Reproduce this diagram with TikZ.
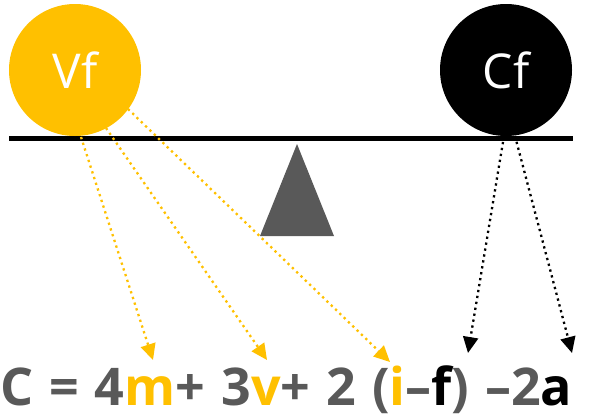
\documentclass[tikz,border=0pt]{standalone}
\usepackage{fontspec}
\setmainfont{Open Sans}
\usetikzlibrary{arrows.meta}
\definecolor{gold}{HTML}{FFC000}
\definecolor{txtgray}{HTML}{595959}
\tikzset{
  ball/.style={circle, minimum size=132pt, inner sep=0pt, font=\fontsize{48}{48}\selectfont, text=white},
  dotarrow/.style={line width=2.3pt, dash pattern=on 2.3pt off 3.7pt, -{Triangle[length=16pt,width=15pt]}},
}
\begin{document}
\begin{tikzpicture}[x=1pt,y=-1pt]
\useasboundingbox (0,0) rectangle (589,418);
% beam
\draw[line width=5pt] (9,138) coordinate (bl) -- (573,138) coordinate (br);
% fulcrum
\fill[txtgray] (297,144) -- (334,236) -- (260,236) -- cycle;
% balls
\node[ball, fill=gold] (vf) at (75,70) {Vf};
\node[ball, fill=black] (cf) at (506,70) {Cf};
% formula
\node[anchor=base west, inner sep=0pt, font=\fontsize{52}{52}\selectfont\bfseries, text=txtgray] (eq) at (0,405)
 {\spaceskip=16pt\relax C = 4\textcolor{gold}{m}+ 3\textcolor{gold}{v}+ 2 (\textcolor{gold}{i}–\textcolor{black}{f}) –2\textcolor{black}{a}};
% arrow end points
\coordinate (tm) at (153,360);
\coordinate (tv) at (267,360);
\coordinate (ti) at (390,362);
\coordinate (tf) at (468,353);
\coordinate (ta) at (572,353);
\coordinate (s1) at (81,137);
\coordinate (s2) at (106,128);
\coordinate (s3) at (128,109);
\coordinate (s4) at (504,136);
\coordinate (s5) at (515,136);
\draw[dotarrow, gold] (s1) -- (tm);
\draw[dotarrow, gold] (s2) -- (tv);
\draw[dotarrow, gold] (s3) -- (ti);
\draw[dotarrow, black] (s4) -- (tf);
\draw[dotarrow, black] (s5) -- (ta);
\end{tikzpicture}
\end{document}
